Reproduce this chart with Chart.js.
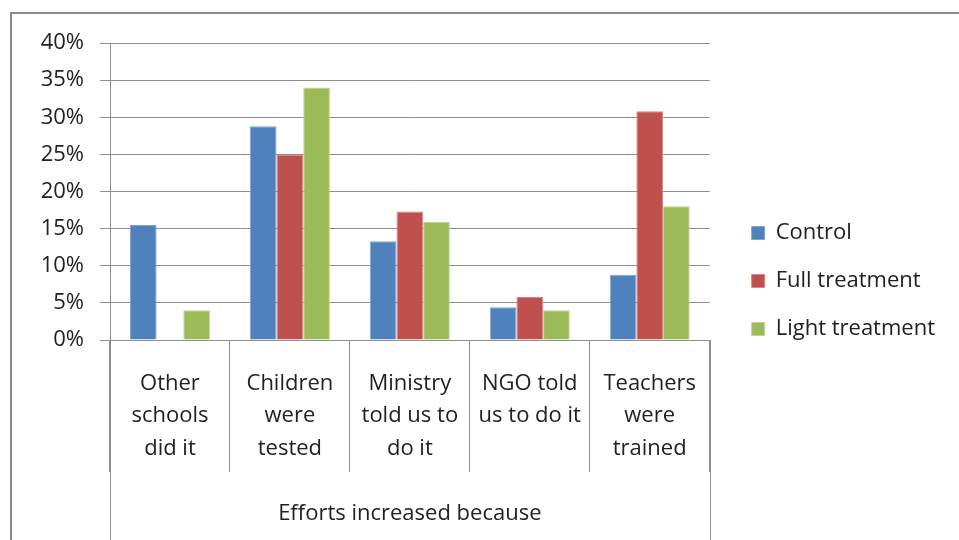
<!DOCTYPE html>
<html>
<head>
<meta charset="utf-8">
<script src="https://cdn.jsdelivr.net/npm/chart.js@4.4.1/dist/chart.umd.min.js"></script>
<style>
  html, body { margin: 0; padding: 0; background: #fff; }
  #wrap { position: relative; width: 959px; height: 540px; overflow: hidden; }
  #frame { position: absolute; left: 10px; top: 12px; width: 1000px; height: 600px;
           border: 2px solid #8a8a8a; box-sizing: border-box; }
  #chart { position: absolute; left: 0; top: 0; }
</style>
</head>
<body>
<div id="wrap">
  <div id="frame"></div>
  <canvas id="chart" width="959" height="540"></canvas>
</div>
<script>
// categories (multi-line labels as in the original)
const categories = [
    ["Other", "schools", "did it"],
    ["Children", "were", "tested"],
    ["Ministry", "told us to", "do it"],
    ["NGO told", "us to do it"],
    ["Teachers", "were", "trained"]
];
const seriesNames = ["Control", "Full treatment", "Light treatment"];
const seriesColors = ["#4F81BD", "#C0504D", "#9BBB59"];
const edgeColors = ["#7fa4d3", "#d88583", "#bcd58e"];

// shares
const control = [0.155, 0.288, 0.133, 0.044, 0.088];
const fullTreatment = [null, 0.250, 0.173, 0.058, 0.308];
const lightTreatment = [0.040, 0.340, 0.159, 0.040, 0.180];

const yTicks = [0, 0.05, 0.10, 0.15, 0.20, 0.25, 0.30, 0.35, 0.40];
const groupLabel = "Efforts increased because";

const FONT = "'Open Sans', 'DejaVu Sans', sans-serif";
const TEXT = "#222";
const GRID = "#8e8e8e";

// the outer lines of the category box run on down to the bottom edge
const groupBox = {
    id: 'groupBox',
    afterDraw(chart) {
        const x = chart.scales.x;
        const ctx = chart.ctx;
        ctx.save();
        ctx.strokeStyle = GRID;
        ctx.lineWidth = 1;
        ctx.beginPath();
        [x.left, x.right].forEach(px => {
            const p = Math.round(px) + 0.5;
            ctx.moveTo(p, chart.chartArea.bottom);
            ctx.lineTo(p, chart.height);
        });
        ctx.stroke();
        ctx.restore();
    }
};

const data = [control, fullTreatment, lightTreatment];

new Chart(document.getElementById('chart'), {
    type: 'bar',
    data: {
        labels: categories,
        datasets: data.map((d, i) => ({
            label: seriesNames[i],
            data: d,
            backgroundColor: seriesColors[i],
            borderColor: edgeColors[i],
            borderWidth: 1,
            categoryPercentage: 0.667,
            barPercentage: 1.0
        }))
    },
    options: {
        responsive: false,
        animation: false,
        layout: { padding: { left: 0, top: 43, right: 14, bottom: 21 } },
        plugins: {
            legend: {
                position: 'right',
                align: 'center',
                labels: {
                    boxWidth: 13,
                    boxHeight: 13,
                    padding: 26,
                    color: TEXT,
                    font: { family: FONT, size: 22 }
                }
            },
            tooltip: { enabled: false }
        },
        scales: {
            x: {
                grid: {
                    display: true,
                    drawOnChartArea: false,
                    drawTicks: true,
                    tickLength: 132,
                    color: GRID,
                    offset: true
                },
                border: { display: true, color: GRID },
                ticks: {
                    color: TEXT,
                    font: { family: FONT, size: 22, lineHeight: '32.5px' },
                    padding: -105,
                    maxRotation: 0,
                    autoSkip: false
                },
                title: {
                    display: true,
                    text: groupLabel,
                    color: TEXT,
                    font: { family: FONT, size: 22, lineHeight: '28px' },
                    padding: { top: 140.5, bottom: -9 }
                }
            },
            y: {
                min: 0,
                max: 0.4,
                afterBuildTicks: s => { s.ticks = yTicks.map(v => ({ value: v })); },
                afterFit: s => { s.width = 110; },
                grid: { color: GRID, tickLength: 10 },
                border: { display: true, color: GRID },
                ticks: {
                    color: TEXT,
                    padding: 16,
                    font: { family: FONT, size: 22 },
                    callback: v => Math.round(v * 100) + '%'
                }
            },
            // empty spacer between the plot and the legend
            gap: {
                type: 'linear',
                position: 'right',
                display: false,
                afterFit: s => { s.width = 16; }
            }
        }
    },
    plugins: [groupBox]
});
</script>
</body>
</html>
